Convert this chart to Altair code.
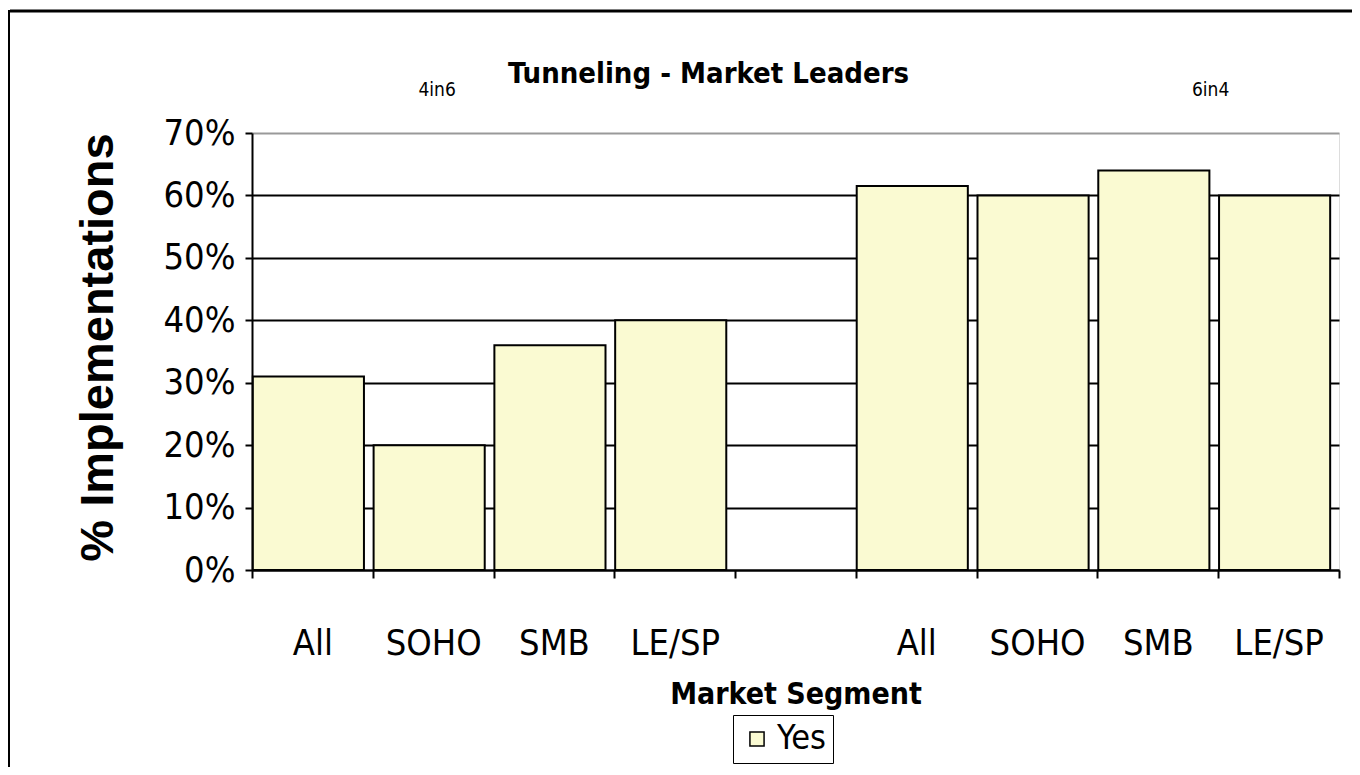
import altair as alt
import pandas as pd

# ---- data ----
groups = ["4in6", "4in6", "4in6", "4in6", "6in4", "6in4", "6in4", "6in4"]
segments = ["All", "SOHO", "SMB", "LE/SP", "All", "SOHO", "SMB", "LE/SP"]
values = [0.31, 0.20, 0.36, 0.40, 0.615, 0.60, 0.64, 0.60]
series = ["Yes"] * 8
slot_order = ["4in6|All", "4in6|SOHO", "4in6|SMB", "4in6|LE/SP", "gap|",
              "6in4|All", "6in4|SOHO", "6in4|SMB", "6in4|LE/SP"]
y_ticks = [0, 0.1, 0.2, 0.3, 0.4, 0.5, 0.6, 0.7]

df = pd.DataFrame({
    "slot": [g + "|" + s for g, s in zip(groups, segments)],
    "value": values,
    "series": series,
})

FONT = "'Liberation Sans Narrow', 'DejaVu Sans Condensed', 'Liberation Sans', Arial, sans-serif"
BOLD_FONT = "'Liberation Sans', Arial, sans-serif"
BAR_FILL = "#FAFAD2"

x_enc = alt.X(
    "slot:N",
    sort=slot_order,
    scale=alt.Scale(domain=slot_order, paddingInner=0, paddingOuter=0),
    axis=alt.Axis(
        title="Market Segment",
        labelExpr="split(datum.label, '|')[1]",
        labelAngle=0,
        labelFont=FONT,
        labelFontSize=36,
        labelColor="black",
        labelPadding=48,
        tickBand="extent",
        tickSize=8,
        tickWidth=2,
        tickColor="black",
        domainColor="black",
        domainWidth=2,
        grid=False,
        titleFont=FONT,
        titleFontSize=30,
        titleFontWeight="bold",
        titleColor="black",
        titleBaseline="alphabetic",
        titleY=133,
    ),
)

y_enc = alt.Y(
    "value:Q",
    scale=alt.Scale(domain=[0, 0.7], nice=False),
    axis=alt.Axis(
        title="% Implementations",
        values=y_ticks,
        format=".0%",
        labelFont=FONT,
        labelFontSize=36,
        labelColor="black",
        labelPadding=10,
        tickSize=7,
        tickWidth=2,
        tickColor="black",
        domainColor="black",
        domainWidth=2,
        grid=True,
        gridColor={"condition": {"test": "datum.value >= 0.69", "value": "#999999"}, "value": "black"},
        gridWidth=2,
        titleFont=BOLD_FONT,
        titleFontSize=47,
        titleFontWeight="bold",
        titleColor="black",
        titleAngle=270,
        titleX=-154,
        titleY=214,
        titleAlign="center",
        titleBaseline="middle",
    ),
)

bars = alt.Chart(df).mark_bar(
    stroke="black", strokeWidth=2, width=alt.RelativeBandSize(0.92), xOffset=-4
).encode(
    x=x_enc,
    y=y_enc,
    color=alt.Color(
        "series:N",
        scale=alt.Scale(domain=["Yes"], range=[BAR_FILL]),
        legend=alt.Legend(
            title=None,
            orient="none",
            legendX=481,
            legendY=582,
            strokeColor="black",
            fillColor="white",
            padding=7,
            labelOffset=3,
            symbolType="square",
            symbolSize=200,
            symbolStrokeColor="black",
            symbolStrokeWidth=1.5,
            labelFont=FONT,
            labelFontSize=34,
            labelColor="black",
        ),
    ),
)

ann1 = alt.Chart(pd.DataFrame({"slot": ["4in6|SOHO"], "label": ["4in6"]})).mark_text(
    font=FONT, fontSize=19, color="black", dx=4, baseline="middle"
).encode(x=alt.X("slot:N", sort=slot_order), y=alt.value(-43), text="label:N")

ann2 = alt.Chart(pd.DataFrame({"slot": ["6in4|LE/SP"], "label": ["6in4"]})).mark_text(
    font=FONT, fontSize=19, color="black", dx=-68, baseline="middle"
).encode(x=alt.X("slot:N", sort=slot_order), y=alt.value(-43), text="label:N")

frame_df = pd.DataFrame({"k": [0]})
frame_top = alt.Chart(frame_df).mark_rule(color="black", strokeWidth=3).encode(
    x=alt.value(-242), x2=alt.value(1120), y=alt.value(-122)
)
frame_left = alt.Chart(frame_df).mark_rule(color="black", strokeWidth=2).encode(
    x=alt.value(-243), y=alt.value(-123), y2=alt.value(660)
)

chart = alt.layer(bars, ann1, ann2, frame_top, frame_left).properties(
    width=1087,
    height=437,
    autosize=alt.AutoSizeParams(type="none"),
    padding={"left": 244, "top": 125, "right": 13, "bottom": 197},
    title=alt.TitleParams(
        "Tunneling - Market Leaders",
        font=FONT,
        fontSize=29,
        fontWeight="bold",
        color="black",
        anchor="middle",
        baseline="alphabetic",
        dx=-87,
        dy=31,
        offset=-72,
    ),
).configure_view(
    stroke="#999999", strokeWidth=2
).configure(background="white")

chart.save("out.html", embed_options={"renderer": "svg", "actions": False})
